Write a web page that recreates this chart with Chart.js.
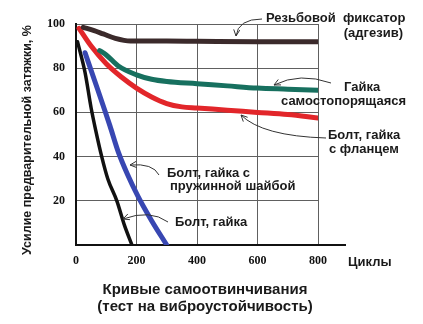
<!DOCTYPE html>
<html>
<head>
<meta charset="utf-8">
<script src="https://cdn.jsdelivr.net/npm/chart.js@4/dist/chart.umd.min.js"></script>
<style>
  html, body { margin: 0; background: #fff; }
</style>
</head>
<body>
<canvas id="myChart" width="423" height="324"></canvas>
<script>
// Кривые самоотвинчивания
const fixatorCycles = [24, 60, 90, 130, 180, 300, 400, 600, 800];
const fixatorForce  = [98.5, 97, 95.5, 93.5, 92.3, 92.3, 92.2, 92, 92];

const lockNutCycles = [78, 100, 140, 200, 250, 300, 400, 500, 600, 700, 800];
const lockNutForce  = [88, 86, 81, 77, 75, 74, 73, 72, 71, 70.5, 70];

const flangeCycles = [10, 50, 100, 150, 200, 250, 300, 350, 400, 500, 600, 700, 800];
const flangeForce  = [98, 90, 82, 76, 71, 67, 64, 62.5, 62, 61, 60, 59, 57.5];

const washerCycles = [30, 60, 95, 112, 140, 170, 205, 250, 300];
const washerForce  = [87, 75, 61, 54, 42, 32, 22, 11, 0];

const plainCycles = [5, 30, 50, 65, 85, 105, 135, 160, 185];
const plainForce  = [92, 78, 62, 52, 40, 30, 20, 9, 0];

const cycleTicks = [0, 200, 400, 600, 800];
const forceTicks = [20, 40, 60, 80, 100];

const ctx = document.getElementById('myChart');

function pts(xs, ys) {
    return xs.map((x, i) => ({ x: x, y: ys[i] }));
}

function series(xs, ys, color, width) {
    return {
        data: pts(xs, ys),
        borderColor: color,
        borderWidth: width,
        pointRadius: 0,
        cubicInterpolationMode: 'monotone',
        borderCapStyle: 'round',
        fill: false
    };
}

// text notes and their little curved arrows (canvas pixels)
const notes = [
    { x: 266, y: 18, lines: ['Резьбовой  фиксатор'] },
    { x: 403, y: 33, lines: ['(адгезив)'], align: 'right' },
    { x: 344, y: 87, lines: ['Гайка'] },
    { x: 281, y: 101, lines: ['самостопорящаяся'] },
    { x: 328, y: 135, lines: ['Болт, гайка'] },
    { x: 329, y: 149, lines: ['с фланцем'] },
    { x: 167, y: 173, lines: ['Болт, гайка с'] },
    { x: 170, y: 186, lines: ['пружинной шайбой'] },
    { x: 175, y: 222, lines: ['Болт, гайка'] }
];

const arrows = [
    [262, 19, 238, 19, 236, 36],
    [331, 83, 300, 72, 274, 85],
    [326, 138, 262, 136, 241, 115],
    [159, 175, 153, 163, 130, 165],
    [168, 222, 150, 209, 123, 219]
];

const notesPlugin = {
    id: 'notes',
    afterDraw(chart) {
        const c = chart.ctx;
        const a = chart.chartArea;
        c.save();

        // x axis runs on a bit past 800
        c.strokeStyle = '#111';
        c.lineWidth = 2;
        c.beginPath();
        c.moveTo(a.right, a.bottom);
        c.lineTo(a.right + 28, a.bottom);
        c.stroke();

        c.fillStyle = '#1a1a1a';
        c.textBaseline = 'middle';
        c.font = 'bold 13px "Liberation Sans", Arial, sans-serif';
        notes.forEach(n => {
            c.textAlign = n.align || 'left';
            n.lines.forEach((t, i) => c.fillText(t, n.x, n.y + i * 14));
        });

        c.strokeStyle = '#333';
        c.lineWidth = 1;
        arrows.forEach(ar => {
            const [sx, sy, cx, cy, tx, ty] = ar;
            c.beginPath();
            c.moveTo(sx, sy);
            c.quadraticCurveTo(cx, cy, tx, ty);
            c.stroke();
            const ang = Math.atan2(ty - cy, tx - cx);
            c.beginPath();
            c.moveTo(tx - 7 * Math.cos(ang - 0.45), ty - 7 * Math.sin(ang - 0.45));
            c.lineTo(tx, ty);
            c.lineTo(tx - 7 * Math.cos(ang + 0.45), ty - 7 * Math.sin(ang + 0.45));
            c.stroke();
        });

        // axis names and caption
        c.textAlign = 'left';
        c.font = 'bold 13px "Liberation Sans", Arial, sans-serif';
        c.fillText('Циклы', 348, 262);

        c.textAlign = 'center';
        c.font = 'bold 15px "Liberation Sans", Arial, sans-serif';
        c.fillText('Кривые самоотвинчивания', 205, 290);
        c.fillText('(тест на виброустойчивость)', 205, 307);

        c.translate(28, 140);
        c.rotate(-Math.PI / 2);
        c.font = 'bold 12.5px "Liberation Sans", Arial, sans-serif';
        c.fillText('Усилие предварительной затяжки, %', 0, 0);
        c.restore();
    }
};

const config = {
    type: 'line',
    data: {
        datasets: [
            series(fixatorCycles, fixatorForce, '#3b2a2b', 5),
            series(lockNutCycles, lockNutForce, '#17705f', 5),
            series(flangeCycles, flangeForce, '#e2262a', 5),
            series(washerCycles, washerForce, '#3847b2', 5),
            series(plainCycles, plainForce, '#111111', 3.5)
        ]
    },
    options: {
        responsive: false,
        animation: false,
        layout: { padding: { left: 0, right: 105, top: 24, bottom: 0 } },
        plugins: {
            legend: { display: false },
            tooltip: { enabled: false }
        },
        scales: {
            x: {
                type: 'linear',
                min: 0,
                max: 800,
                afterBuildTicks: s => { s.ticks = cycleTicks.map(v => ({ value: v })); },
                afterFit: s => { s.height = 79; },
                grid: { color: '#606060', lineWidth: 1, drawTicks: false },
                border: { color: '#111', width: 2 },
                ticks: {
                    padding: 9,
                    color: '#111',
                    font: { family: '"Liberation Serif", serif', size: 12, weight: 'bold' }
                }
            },
            y: {
                min: 0,
                max: 100,
                afterBuildTicks: s => { s.ticks = forceTicks.map(v => ({ value: v })); },
                afterFit: s => { s.width = 76; },
                grid: { color: '#606060', lineWidth: 1, drawTicks: false },
                border: { color: '#111', width: 2 },
                ticks: {
                    padding: 11,
                    color: '#111',
                    font: { family: '"Liberation Serif", serif', size: 12, weight: 'bold' }
                }
            }
        }
    },
    plugins: [notesPlugin]
};

let myChart = new Chart(ctx, config);
</script>
</body>
</html>
